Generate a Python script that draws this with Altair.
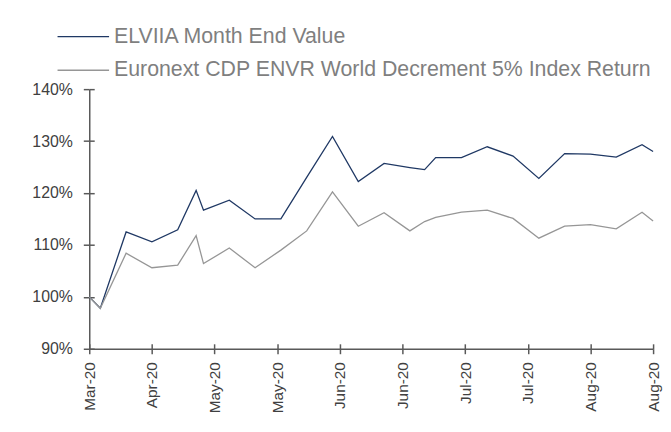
import altair as alt
import pandas as pd

# ---- data ----
dates = ["2020-03-31", "2020-04-03", "2020-04-10", "2020-04-17", "2020-04-24",
         "2020-04-29", "2020-05-01", "2020-05-08", "2020-05-15", "2020-05-22",
         "2020-05-29", "2020-06-05", "2020-06-12", "2020-06-19", "2020-06-26",
         "2020-06-30", "2020-07-03", "2020-07-10", "2020-07-17", "2020-07-24",
         "2020-07-31", "2020-08-07", "2020-08-14", "2020-08-21", "2020-08-28",
         "2020-08-31"]
elviia = [100, 97.8, 112.5, 110.6, 112.9, 120.5, 116.7, 118.6, 115.0, 115.0,
          123.0, 130.9, 122.2, 125.7, 124.9, 124.5, 126.8, 126.8, 128.9, 127.1,
          122.8, 127.6, 127.5, 126.9, 129.3, 128.0]
index_ret = [100, 97.8, 108.4, 105.6, 106.1, 111.8, 106.4, 109.4, 105.6, 109.0,
             112.7, 120.2, 113.6, 116.2, 112.7, 114.5, 115.3, 116.3, 116.7, 115.1,
             111.3, 113.6, 113.9, 113.1, 116.3, 114.6]
series_names = ["ELVIIA Month End Value",
                "Euronext CDP ENVR World Decrement 5% Index Return"]
tick_dates = ["2020-03-31", "2020-04-17", "2020-05-04", "2020-05-21", "2020-06-07",
              "2020-06-24", "2020-07-11", "2020-07-28", "2020-08-14", "2020-08-31"]
y_ticks = [90, 100, 110, 120, 130, 140]

colors = ["#1F3864", "#969696"]
FONT = "Liberation Sans"
AXIS_COLOR = "#595959"
LABEL_COLOR = "#404040"

rows = []
for d, a, b in zip(dates, elviia, index_ret):
    rows.append({"date": d, "series": series_names[0], "value": a})
    rows.append({"date": d, "series": series_names[1], "value": b})
df = pd.DataFrame(rows)

tick_ms = [int(pd.Timestamp(t, tz="UTC").value // 10**6) for t in tick_dates]
x_scale = alt.Scale(type="utc", domain=[tick_ms[0], tick_ms[-1]])
y_scale = alt.Scale(domain=[y_ticks[0], y_ticks[-1]], nice=False, zero=False)

x_axis = alt.Axis(values=tick_ms, labelExpr="utcFormat(datum.value, '%b-%y')",
                  labelAngle=-90, orient="bottom",
                  labelFontSize=15.5, labelColor=LABEL_COLOR, labelFont=FONT,
                  tickSize=5, tickColor=AXIS_COLOR, tickWidth=1.5,
                  domainColor=AXIS_COLOR, domainWidth=1.5, labelPadding=8,
                  grid=False, title=None)
y_axis = alt.Axis(values=y_ticks, labelExpr="datum.value + '%'", orient="left",
                  labelFontSize=16, labelColor=LABEL_COLOR, labelFont=FONT,
                  tickSize=6, tickColor=AXIS_COLOR, tickWidth=1.5,
                  domainColor=AXIS_COLOR, domainWidth=1.5, labelPadding=11,
                  grid=False, title=None)

lines = alt.Chart(df).mark_line(strokeWidth=1.3).encode(
    x=alt.X("date:T", scale=x_scale, axis=x_axis),
    y=alt.Y("value:Q", scale=y_scale, axis=y_axis),
    color=alt.Color("series:N", scale=alt.Scale(domain=series_names, range=colors),
                    legend=None),
)

# inner half of the crossing tick marks
inner = alt.Chart(df).mark_line(opacity=0).encode(
    x=alt.X("date:T", scale=x_scale,
            axis=alt.Axis(values=tick_ms, orient="bottom", offset=-5, labels=False,
                          domain=False, tickSize=5, tickColor=AXIS_COLOR,
                          tickWidth=1.5, grid=False, title=None)),
    y=alt.Y("value:Q", scale=y_scale,
            axis=alt.Axis(values=y_ticks, orient="left", offset=-5, labels=False,
                          domain=False, tickSize=5, tickColor=AXIS_COLOR,
                          tickWidth=1.5, grid=False, title=None)),
)

legend_layers = []
legend_rows_y = [-53, -19]
for name, col, ly in zip(series_names, colors, legend_rows_y):
    ldf = pd.DataFrame({"series": [name]})
    legend_layers.append(
        alt.Chart(ldf).mark_rule(color=col, strokeWidth=1.5).encode(
            x=alt.value(-32), x2=alt.value(20), y=alt.value(ly)))
    legend_layers.append(
        alt.Chart(ldf).mark_text(align="left", baseline="middle", fontSize=21.5,
                                 font=FONT, color="#7F7F7F").encode(
            x=alt.value(25), y=alt.value(ly), text="series:N"))

chart = alt.layer(lines, inner, *legend_layers).resolve_axis(
    x="independent", y="independent"
).properties(
    width=569, height=262,
    padding={"left": 82, "top": 80, "right": 10, "bottom": 70},
    autosize=alt.AutoSizeParams(type="none"),
    background="white",
).configure_view(stroke=None)

chart.save("out.html", embed_options={"renderer": "svg", "actions": False})
